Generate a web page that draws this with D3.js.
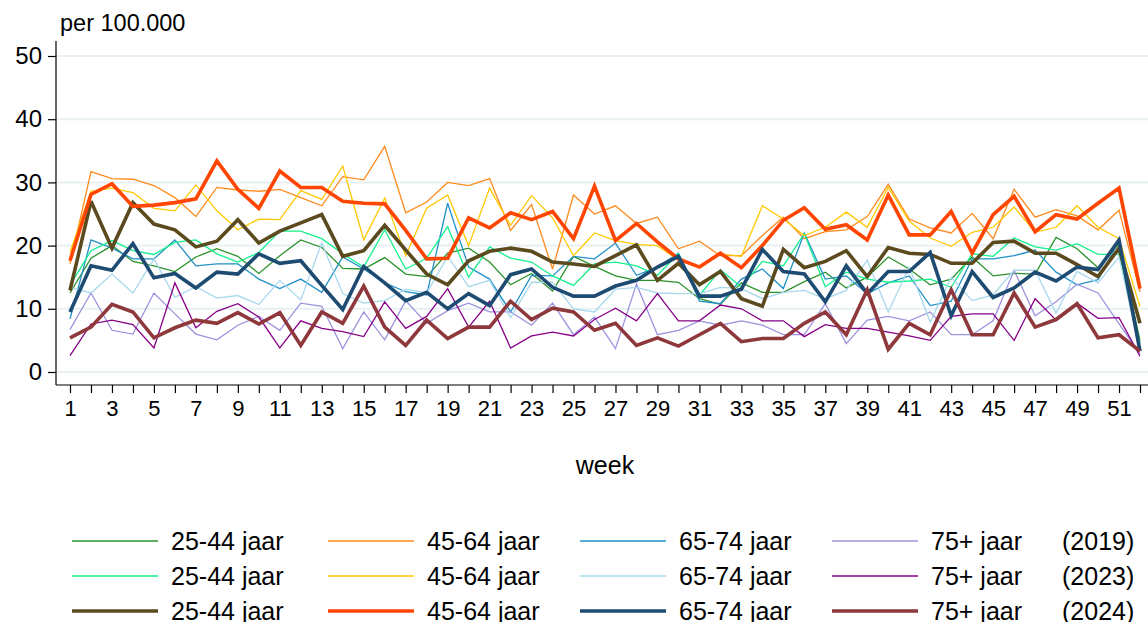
<!DOCTYPE html>
<html><head><meta charset="utf-8">
<script src="https://cdn.jsdelivr.net/npm/d3@7"></script>
<style>body{margin:0;background:#fff}svg{display:block;font-family:"Liberation Sans",Arial,sans-serif}</style>
</head><body><svg id="c" width="1148" height="622"></svg>
<script>
const weeks = d3.range(1, 53);
const yTicks = [0, 10, 20, 30, 40, 50];
const xTickLabels = d3.range(1, 53, 2);
const yLabel = "per 100.000";
const xLabel = "week";

const g2544_2019 = [12.5,18.0,20.0,17.5,16.8,15.9,18.2,19.5,18.3, 15.6,18.4,20.9,19.7,16.4,16.3,18.1,15.5,15.1, 18.8,19.6,17.4,13.8,15.6,12.8,18.3,16.7,15.2, 14.5,14.5,14.2,11.6,10.7,14.1,12.6,12.6,14.3, 15.8,13.3,15.0,18.2,16.3,13.8,14.7,18.2,15.2, 15.6,15.5,21.3,19.5,16.5,20.3,5.0];
const g2544_2023 = [13.7,19.2,20.8,19.2,18.6,20.5,20.9,18.7,17.4, 18.9,22.3,22.3,21.1,18.7,16.6,22.5,16.3,18.0, 23.0,15.0,19.8,18.0,17.4,15.2,13.7,17.1,17.4, 16.8,15.3,18.7,12.1,16.2,13.4,17.5,16.8,21.9, 13.5,15.8,14.7,14.2,14.4,14.7,13.4,18.7,18.3, 21.2,19.8,19.3,20.3,18.6,18.6,4.5];
const g2544_2024 = [12.9,27.0,19.6,26.8,23.4,22.5,19.8,20.7,24.1, 20.4,22.3,23.6,24.9,18.3,19.2,23.2,19.3,15.5, 13.8,17.6,19.1,19.6,19.1,17.4,17.1,16.7,18.4, 20.1,14.5,17.2,13.8,15.9,11.6,10.4,19.4,16.5, 17.5,19.2,15.1,19.7,18.8,18.6,17.2,17.2,20.5, 20.7,18.8,18.8,17.0,15.1,19.6,7.7];
const g4564_2019 = [17.1,31.7,30.6,30.5,29.5,27.6,24.6,29.2,28.8, 28.6,28.9,27.6,26.3,30.9,30.4,35.7,25.2,26.9, 30.0,29.5,30.6,22.4,26.5,16.3,28.0,25.0,26.3, 23.5,24.5,19.5,20.7,18.4,18.4,21.6,24.5,21.1, 22.2,22.5,24.6,29.7,24.2,22.8,22.0,25.1,21.1, 28.9,24.5,25.7,24.7,22.5,25.6,12.7];
const g4564_2023 = [18.9,28.6,29.1,28.4,25.9,25.5,29.6,25.5,22.5, 24.2,24.1,28.7,27.3,32.6,20.9,27.5,18.4,25.9, 28.0,20.0,29.1,23.2,27.9,24.4,18.4,22.0,20.8, 20.2,20.0,17.7,16.6,18.7,18.3,26.3,24.2,21.6, 22.9,25.3,22.9,29.2,23.9,21.2,19.9,22.1,22.9, 26.1,22.1,22.9,26.3,22.9,21.1,10.3];
const g4564_2024 = [17.6,28.1,29.8,26.2,26.4,26.8,27.4,33.4,28.9, 25.9,31.8,29.2,29.2,27.0,26.7,26.6,22.4,17.9, 18.0,24.4,22.8,25.2,24.1,25.4,21.1,29.4,20.8, 23.5,20.6,17.9,16.6,18.8,16.5,20.0,24.0,26.0, 22.6,23.3,20.9,28.0,21.7,21.7,25.4,18.8,24.9, 27.8,22.2,24.9,24.2,26.7,29.1,13.2];
const g6574_2019 = [8.4,20.9,19.6,17.9,17.9,20.9,16.8,17.1,17.1, 14.7,13.2,14.7,12.6,18.2,16.3,14.1,12.7,12.2, 26.7,16.6,14.7,9.5,15.3,15.2,18.3,17.9,20.4, 15.3,16.6,18.8,11.2,10.8,14.7,16.3,13.2,22.0, 14.7,15.2,12.4,14.1,15.2,10.5,11.2,17.9,17.9, 18.4,19.3,15.8,13.8,14.6,20.8,3.4];
const g6574_2023 = [13.4,12.5,15.5,12.5,17.9,11.8,13.5,11.7,12.1, 10.7,14.5,11.4,20.4,12.4,10.9,11.3,13.1,12.5, 18.3,13.5,14.5,8.6,14.2,14.2,10.0,9.5,13.1, 13.4,12.5,12.4,12.4,13.4,13.2,11.6,12.6,12.9, 11.6,12.9,17.7,9.5,16.6,7.9,15.0,11.3,12.2, 16.1,16.1,9.3,15.9,14.1,18.2,3.4];
const g6574_2024 = [9.5,16.8,16.1,20.3,14.9,15.6,13.3,15.8,15.5, 18.7,17.2,17.6,13.7,9.9,16.7,14.1,11.3,12.6, 10.0,12.4,10.5,15.4,16.3,13.4,12.0,12.0,13.6, 14.5,16.6,18.3,12.0,12.0,13.1,19.4,15.9,15.5, 11.1,16.8,12.4,15.9,15.9,18.9,8.9,15.9,11.8, 13.3,15.8,14.4,16.6,16.2,20.9,3.3];
const g75_2019 = [6.7,12.5,6.6,6.0,12.5,9.2,6.0,5.1,7.4, 8.8,6.6,10.9,10.4,3.7,9.5,5.1,11.3,7.7, 9.7,10.9,9.5,9.5,7.4,10.9,5.9,8.7,3.7, 13.9,5.9,6.6,8.1,7.4,8.1,7.4,5.9,5.9, 10.8,4.5,8.2,8.8,8.1,9.5,5.9,5.9,8.1, 16.1,8.9,11.1,13.9,12.5,7.6,2.9];
const g75_2023 = [2.6,7.6,8.2,7.5,3.8,14.1,7.0,9.6,10.8, 8.7,3.8,8.1,6.9,6.4,5.6,11.1,6.9,8.8, 13.2,7.1,11.2,3.8,5.7,6.3,5.7,8.3,10.1, 8.1,12.4,8.1,8.1,10.6,10.0,8.1,8.1,5.6, 7.5,6.9,6.9,6.3,5.7,5.0,8.8,9.2,9.2, 5.0,11.6,8.2,10.9,8.5,8.6,2.5];
const g75_2024 = [5.4,7.1,10.7,9.5,5.4,7.0,8.2,7.7,9.4, 7.6,9.4,4.2,9.5,7.7,13.6,7.1,4.2,8.2, 5.3,7.1,7.1,11.2,8.3,10.1,9.5,6.6,7.7, 4.2,5.4,4.1,5.9,7.7,4.8,5.3,5.3,7.7, 9.5,5.9,13.0,3.6,7.7,5.9,13.0,5.9,5.9, 12.5,7.1,8.3,10.8,5.4,5.9,3.3];

const ageGroups = ["25-44 jaar", "45-64 jaar", "65-74 jaar", "75+ jaar"];
const years = ["(2019)", "(2023)", "(2024)"];

const series = [
  {age:0, yr:0, v:g2544_2019, c:"#2a922a", w:1.3},
  {age:1, yr:0, v:g4564_2019, c:"#ff8a1c", w:1.3},
  {age:2, yr:0, v:g6574_2019, c:"#2290c8", w:1.3},
  {age:3, yr:0, v:g75_2019, c:"#9d93df", w:1.3},
  {age:0, yr:1, v:g2544_2023, c:"#14f08c", w:1.3},
  {age:1, yr:1, v:g4564_2023, c:"#ffc800", w:1.3},
  {age:2, yr:1, v:g6574_2023, c:"#a8d8ec", w:1.3},
  {age:3, yr:1, v:g75_2023, c:"#870087", w:1.3},
  {age:0, yr:2, v:g2544_2024, c:"#5c4a1f", w:3.6},
  {age:1, yr:2, v:g4564_2024, c:"#ff4500", w:3.6},
  {age:2, yr:2, v:g6574_2024, c:"#1d4b72", w:3.6},
  {age:3, yr:2, v:g75_2024, c:"#8e383c", w:3.6}
];

const svg = d3.select("#c");
const x = d3.scaleLinear().domain([1, 52]).range([70, 1140]);
const y = d3.scaleLinear().domain([0, 50]).range([372, 56]);
const axisX0 = 56, axisY0 = 385, plotTop = 41, plotRight = 1148;
const FONT = "Liberation Sans, Arial, sans-serif";

// gridlines
svg.append("g").selectAll("line").data(yTicks).join("line")
  .attr("x1", axisX0 + 1).attr("x2", plotRight)
  .attr("y1", d => y(d)).attr("y2", d => y(d))
  .attr("stroke", "#e8f0f2").attr("stroke-width", 2);

// lines
const line = d3.line().x((d, i) => x(weeks[i])).y(d => y(d));
svg.append("g").selectAll("path").data(series).join("path")
  .attr("d", s => line(s.v))
  .attr("fill", "none").attr("stroke", s => s.c).attr("stroke-width", s => s.w)
  .attr("stroke-linejoin", "miter").attr("stroke-miterlimit", 3);

// y axis
const yAxis = d3.axisLeft(y).tickValues(yTicks).tickSize(8).tickPadding(6).tickSizeOuter(0);
const ga = svg.append("g").attr("transform", `translate(${axisX0},0)`).call(yAxis);
ga.select(".domain").remove();
ga.selectAll(".tick line").attr("stroke", "#000").attr("stroke-width", 1.2);
ga.selectAll("text").attr("font-size", 24).attr("font-family", FONT).attr("fill", "#000");
svg.append("line").attr("x1", axisX0).attr("x2", axisX0).attr("y1", plotTop).attr("y2", axisY0)
  .attr("stroke", "#000").attr("stroke-width", 1.2);

// x axis
const xAxis = d3.axisBottom(x).tickValues(weeks).tickSize(8).tickPadding(7).tickSizeOuter(0)
  .tickFormat(d => xTickLabels.includes(d) ? d : "");
const gx = svg.append("g").attr("transform", `translate(0,${axisY0})`).call(xAxis);
gx.select(".domain").remove();
gx.selectAll(".tick line").attr("stroke", "#000").attr("stroke-width", 1.2);
gx.selectAll("text").attr("font-size", 22).attr("font-family", FONT).attr("fill", "#000");
svg.append("line").attr("x1", axisX0).attr("x2", plotRight).attr("y1", axisY0).attr("y2", axisY0)
  .attr("stroke", "#000").attr("stroke-width", 1.2);

// labels
svg.append("text").attr("x", 60).attr("y", 31).attr("font-size", 23.5).text(yLabel);
svg.append("text").attr("x", 605).attr("y", 474).attr("text-anchor", "middle").attr("font-size", 25).text(xLabel);

// legend
const colLineX = [72, 328, 580, 832];
const lineLen = 86;
const rowY = [541, 576, 611];
const lg = svg.append("g");
series.forEach(s => {
  const lx = colLineX[s.age], ly = rowY[s.yr];
  lg.append("line").attr("x1", lx).attr("x2", lx + lineLen).attr("y1", ly).attr("y2", ly)
    .attr("stroke", s.c).attr("stroke-width", s.w);
  lg.append("text").attr("x", lx + lineLen + 13).attr("y", ly).attr("dy", "0.35em")
    .attr("font-size", 25).text(ageGroups[s.age]);
});
years.forEach((t, i) => {
  lg.append("text").attr("x", 1062).attr("y", rowY[i]).attr("dy", "0.35em").attr("font-size", 25).text(t);
});
</script></body></html>
